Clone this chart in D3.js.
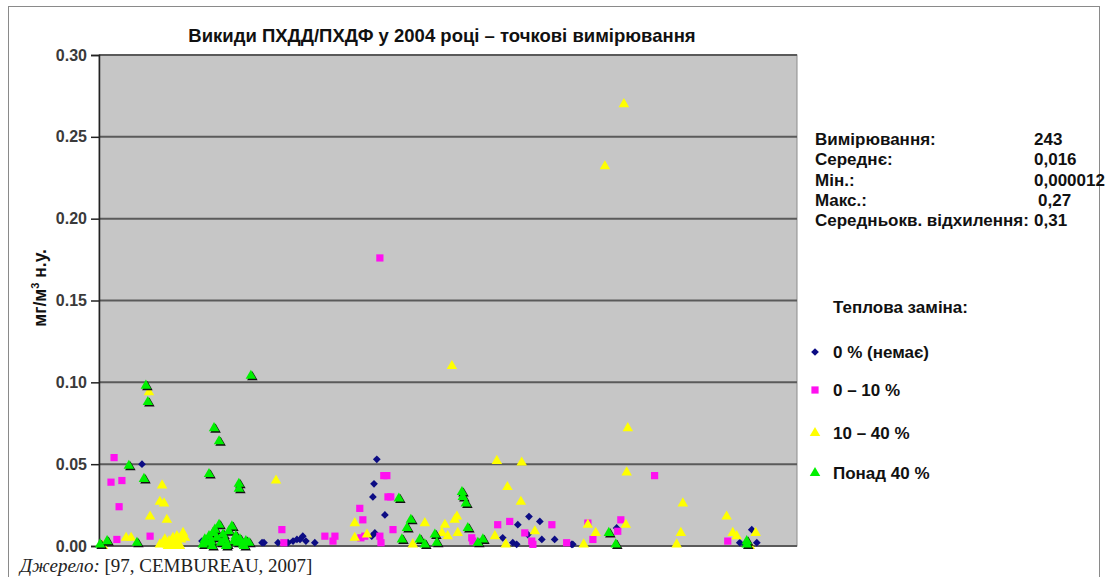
<!DOCTYPE html>
<html>
<head>
<meta charset="utf-8">
<script src="https://cdn.jsdelivr.net/npm/d3@7"></script>
<style>
body { margin: 0; background: #fff; }
svg { display: block; }
</style>
</head>
<body>
<div id="chart"></div>
<script>
const titleText = "Викиди ПХДД/ПХДФ у 2004 році – точкові вимірювання";
const yTicks = [0, 0.05, 0.10, 0.15, 0.20, 0.25, 0.30];
const seriesNames = ["0 % (немає)", "0 – 10 %", "10 – 40 %", "Понад 40 %"];
const statLabels = ["Вимірювання:", "Середнє:", "Мін.:", "Макс.:", "Середньокв. відхилення:"];
const statValues = ["243", "0,016", "0,000012", "0,27", "0,31"];

// [measurement index, mg/m3]
const noneSeries = [
  [15.4, 0.050], [36.9, 0.003], [58.4, 0.002], [59.1, 0.002], [64.1, 0.002], [67.7, 0.002],
  [69.5, 0.003], [70.9, 0.004], [72.0, 0.004], [73.0, 0.006], [74.1, 0.003], [77.3, 0.002],
  [97.7, 0.006], [98.8, 0.008], [98.1, 0.030], [98.5, 0.038], [99.5, 0.053], [102.4, 0.019],
  [144.6, 0.005], [148.2, 0.002], [149.6, 0.001], [150.0, 0.013], [153.6, 0.007], [154.0, 0.018],
  [157.9, 0.015], [158.6, 0.004], [163.2, 0.004], [169.3, 0.001], [169.7, 0.001], [185.4, 0.011],
  [229.5, 0.002], [231.3, 0.001], [233.8, 0.010], [235.6, 0.002]
];
const lowSeries = [
  [4.3, 0.039], [5.4, 0.054], [6.4, 0.004], [7.2, 0.024], [8.2, 0.040], [18.3, 0.006],
  [65.5, 0.010], [66.2, 0.002], [80.9, 0.006], [83.8, 0.003], [84.5, 0.006], [93.4, 0.023],
  [93.8, 0.005], [94.5, 0.016], [95.2, 0.006], [100.6, 0.176], [100.6, 0.006], [101.0, 0.002],
  [102.0, 0.043], [103.1, 0.043], [103.5, 0.030], [104.5, 0.030], [105.3, 0.010], [133.5, 0.005],
  [133.9, 0.003], [142.8, 0.013], [147.1, 0.015], [152.5, 0.008], [155.0, 0.003], [155.4, 0.001],
  [162.2, 0.013], [167.5, 0.002], [175.1, 0.014], [176.9, 0.004], [185.8, 0.009], [186.9, 0.016],
  [199.0, 0.043], [225.2, 0.003]
];
const midSeries = [
  [1.4, 0.000], [9.7, 0.005], [11.5, 0.005], [17.9, 0.094], [18.3, 0.018], [21.8, 0.027],
  [22.6, 0.037], [23.3, 0.026], [24.3, 0.016], [21.8, 0.001], [22.9, 0.002], [23.6, 0.004],
  [24.3, 0.001], [24.7, 0.000], [25.1, 0.003], [25.8, 0.002], [26.5, 0.005], [26.9, 0.000],
  [27.2, 0.003], [27.9, 0.006], [28.6, 0.001], [29.0, 0.000], [29.4, 0.004], [30.1, 0.008],
  [30.8, 0.005], [63.4, 0.040], [91.6, 0.014], [91.6, 0.005], [96.0, 0.007], [112.4, 0.001],
  [116.7, 0.014], [122.8, 0.008], [123.9, 0.013], [124.9, 0.006], [126.4, 0.110], [127.4, 0.016],
  [128.2, 0.018], [128.5, 0.008], [141.8, 0.006], [142.5, 0.052], [145.7, 0.001], [146.3, 0.036],
  [151.1, 0.027], [151.4, 0.051], [156.1, 0.009], [173.6, 0.001], [175.1, 0.013], [177.9, 0.008],
  [181.2, 0.232], [188.0, 0.270], [188.7, 0.013], [189.0, 0.045], [189.4, 0.072], [206.9, 0.001],
  [208.4, 0.008], [209.1, 0.026], [224.8, 0.018], [227.0, 0.008], [228.4, 0.006], [233.1, 0.000],
  [235.2, 0.008]
];
const highSeries = [
  [0.4, 0.001], [2.9, 0.003], [10.7, 0.049], [13.6, 0.002], [16.1, 0.041], [16.8, 0.098],
  [17.5, 0.088], [39.4, 0.044], [41.2, 0.072], [43.0, 0.064], [50.1, 0.038], [50.1, 0.035],
  [54.4, 0.104], [37.2, 0.001], [37.9, 0.004], [38.7, 0.002], [39.4, 0.006], [40.1, 0.003],
  [40.5, 0.000], [40.8, 0.008], [41.5, 0.010], [42.2, 0.005], [43.0, 0.013], [43.7, 0.002],
  [44.4, 0.007], [45.1, 0.004], [45.5, 0.000], [45.8, 0.001], [46.5, 0.009], [47.6, 0.012],
  [48.3, 0.003], [49.0, 0.006], [49.7, 0.002], [50.5, 0.004], [51.6, 0.001], [52.0, 0.000],
  [52.6, 0.003], [53.7, 0.002], [107.4, 0.029], [108.5, 0.004], [110.3, 0.011], [111.7, 0.016],
  [114.9, 0.004], [116.7, 0.001], [120.3, 0.007], [121.0, 0.002], [130.0, 0.033], [130.3, 0.030],
  [131.4, 0.026], [132.1, 0.011], [135.7, 0.002], [137.5, 0.004], [182.6, 0.008], [185.1, 0.001],
  [232.0, 0.003], [232.0, 0.001]
];

const allSeries = [noneSeries, lowSeries, midSeries, highSeries];
const colors = ["#0c0c84", "#ff10f0", "#ffff00", "#00f000"];
// diamond = square turned by 45 degrees, like the spreadsheet marker
const symbolTypes = [d3.symbolSquare, d3.symbolSquare, d3.symbolTriangle, d3.symbolTriangle];
const symbolSizes = [30, 52, 48, 48];
const symbolRotate = [45, 0, 0, 0];

const width = 1108, height = 577;
const plot = {left: 99, top: 55, right: 797, bottom: 546};

const svg = d3.select("#chart").append("svg")
    .attr("width", width)
    .attr("height", height)
    .style("font-family", "'Liberation Sans', Arial, sans-serif");

// outer frame (bottom edge is cut off in the source)
svg.append("rect")
    .attr("x", 8.5).attr("y", 6.5)
    .attr("width", 1091).attr("height", 600)
    .attr("fill", "none")
    .attr("stroke", "#8a8a8a");

const x = d3.scaleLinear().domain([0, 250]).range([plot.left, plot.right]);
const y = d3.scaleLinear().domain([0, 0.30]).range([plot.bottom, plot.top]);

svg.append("rect")
    .attr("x", plot.left).attr("y", plot.top)
    .attr("width", plot.right - plot.left)
    .attr("height", plot.bottom - plot.top)
    .attr("fill", "#c6c6c6")
    .attr("stroke", "#8c8c8c");

// gridlines
svg.append("g").selectAll("line")
    .data(yTicks)
    .enter()
    .append("line")
    .attr("x1", plot.left).attr("x2", plot.right)
    .attr("y1", d => y(d)).attr("y2", d => y(d))
    .attr("stroke", "#5a5a5a")
    .attr("stroke-width", 2);

// y axis
const yAxis = svg.append("g")
    .attr("transform", `translate(${plot.left},0)`)
    .call(d3.axisLeft(y).tickValues(yTicks).tickFormat(d3.format(".2f")).tickSize(8).tickPadding(4));
yAxis.select(".domain").attr("stroke", "#222").attr("stroke-width", 1.5);
yAxis.selectAll(".tick line").attr("stroke", "#222").attr("stroke-width", 1.5);
yAxis.selectAll(".tick text")
    .attr("fill", "#3a3a3a")
    .attr("font-size", "16px")
    .attr("font-weight", "bold")
    .attr("font-family", "'Liberation Sans Narrow', 'Liberation Sans', Arial, sans-serif");

// markers
const symbolGen = (i) => d3.symbol().type(symbolTypes[i]).size(symbolSizes[i]);

allSeries.forEach((data, i) => {
    const g = svg.append("g");
    if (i === 3) {
        g.selectAll("path.shadow")
            .data(data)
            .enter()
            .append("path")
            .attr("class", "shadow")
            .attr("d", symbolGen(i)())
            .attr("transform", d => `translate(${x(d[0]) + 1.5},${y(d[1]) + 1.5})`)
            .attr("fill", "#101010");
    }
    g.selectAll("path.mark")
        .data(data)
        .enter()
        .append("path")
        .attr("class", "mark")
        .attr("d", symbolGen(i)())
        .attr("transform", d => `translate(${x(d[0])},${y(d[1])}) rotate(${symbolRotate[i]})`)
        .attr("fill", colors[i]);
});

// title
svg.append("text")
    .attr("x", 442).attr("y", 42)
    .attr("text-anchor", "middle")
    .attr("font-size", "18.5px")
    .attr("font-weight", "bold")
    .attr("fill", "#111")
    .text(titleText);

// y label
const yLabel = svg.append("text")
    .attr("transform", "translate(46,288) rotate(-90)")
    .attr("text-anchor", "middle")
    .attr("font-size", "17.5px")
    .attr("font-weight", "bold")
    .attr("fill", "#111");
yLabel.append("tspan").text("мг/м");
yLabel.append("tspan").attr("dy", -7).attr("font-size", "11px").text("3");
yLabel.append("tspan").attr("dy", 7).text(" н.у.");

// statistics block
const stats = svg.append("g")
    .attr("font-size", "17px")
    .attr("font-weight", "bold")
    .attr("fill", "#111");
stats.selectAll("text.lab")
    .data(statLabels)
    .enter()
    .append("text")
    .attr("class", "lab")
    .attr("x", 815)
    .attr("y", (d, i) => 145 + i * 20.3)
    .text(d => d);
stats.selectAll("text.val")
    .data(statValues)
    .enter()
    .append("text")
    .attr("class", "val")
    .attr("x", (d, i) => i === 3 ? 1038 : 1034)
    .attr("y", (d, i) => 145 + i * 20.3)
    .text(d => d);

// legend
const legend = svg.append("g")
    .attr("font-size", "17px")
    .attr("font-weight", "bold")
    .attr("fill", "#111");
legend.append("text")
    .attr("x", 833).attr("y", 313)
    .text("Теплова заміна:");
const legendY = [352, 390, 433, 473];
seriesNames.forEach((name, i) => {
    legend.append("path")
        .attr("d", symbolGen(i)())
        .attr("transform", `translate(815,${legendY[i]}) rotate(${symbolRotate[i]})`)
        .attr("fill", colors[i]);
    legend.append("text")
        .attr("x", 833).attr("y", legendY[i] + 6)
        .text(name);
});

// source line
const src = svg.append("text")
    .attr("x", 20).attr("y", 572)
    .attr("font-family", "'Liberation Serif', 'Times New Roman', serif")
    .attr("font-size", "19px")
    .attr("fill", "#222");
src.append("tspan").attr("font-style", "italic").text("Джерело:");
src.append("tspan").text(" [97, CEMBUREAU, 2007]");
</script>
</body>
</html>
